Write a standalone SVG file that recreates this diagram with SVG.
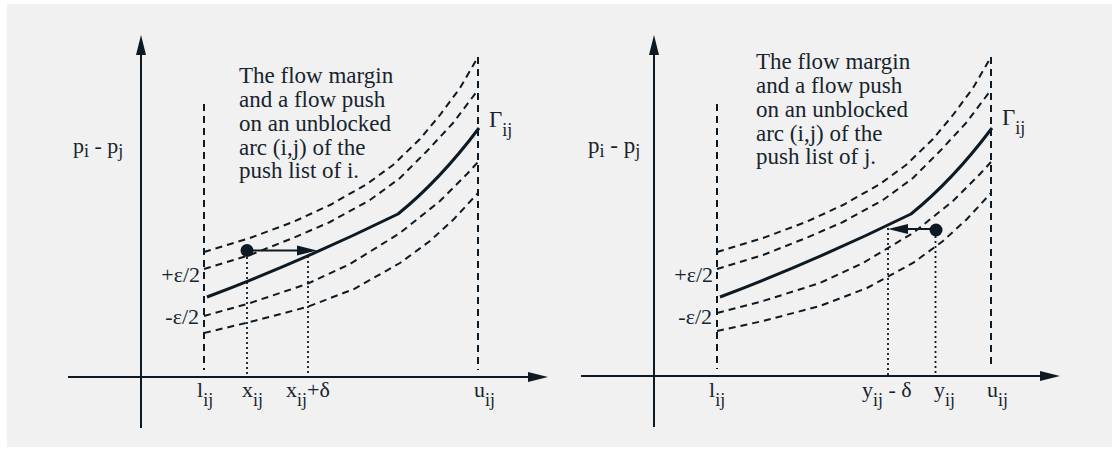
<svg xmlns="http://www.w3.org/2000/svg" width="1119" height="452" viewBox="0 0 1119 452">
<style>
.bg{fill:#f1f1f1}
.ax{stroke:#0e1a23;stroke-width:2;fill:none}
.dash{stroke:#0e1a23;stroke-width:2;fill:none;stroke-dasharray:7 5}
.dot{stroke:#0e1a23;stroke-width:1.8;fill:none;stroke-dasharray:2 3}
.solid{stroke:#0e1a23;stroke-width:3;fill:none;stroke-linejoin:miter}
.t{font-family:"Liberation Serif","Times New Roman",serif;fill:#17242e}
.para{font-size:23px}
.lab{font-size:22px}
.sub{font-size:18px}
</style>
<defs>
<marker id="ah" viewBox="0 0 20 10" refX="10" refY="5" markerWidth="20" markerHeight="10" markerUnits="userSpaceOnUse" orient="auto">
<path d="M0,0 L20,5 L0,10 z" fill="#0e1a23"/>
</marker>
<marker id="ahs" viewBox="0 0 20 11" refX="8" refY="5.5" markerWidth="20" markerHeight="11" markerUnits="userSpaceOnUse" orient="auto">
<path d="M0,0.5 L20,5.5 L0,10.5 z" fill="#0e1a23"/>
</marker>
</defs>
<rect class="bg" x="7" y="4" width="1105" height="443"/>

<g id="left-panel">
<g id="left-axes">
<line class="ax" x1="141" y1="428" x2="141" y2="45" marker-end="url(#ah)"/>
<line class="ax" x1="68" y1="377" x2="538" y2="377" marker-end="url(#ah)"/>
</g>
<g id="left-bounds">
<line class="dash" x1="204" y1="104" x2="204" y2="370"/>
<line class="dash" x1="478" y1="57" x2="478" y2="370"/>
</g>
<g id="left-curves">
<path class="dash" d="M204,252 L250,238 L293,222 L330,205 L367,184 L393,165 L420,139 L440,115 L460,88 L478,57"/>
<path class="dash" d="M204,269 L250,255 L293,238 L330,222 L370,200 L400,178 L427,151 L453,123 L478,90"/>
<path class="solid" d="M207,297 Q300,262 398,214 Q440,180 479,128"/>
<path class="dash" d="M204,316 L247,304 L307,284 L350,264 L400,233 L440,201 L467,174 L478,162"/>
<path class="dash" d="M204,333 L250,322 L307,307 L354,289 L400,263 L430,241 L454,219 L478,193"/>
</g>
<g id="left-push">
<line class="dot" x1="247" y1="252" x2="247" y2="376"/>
<line class="dot" x1="308" y1="256" x2="308" y2="376"/>
<line class="ax" x1="247" y1="250.5" x2="305" y2="250.5" marker-end="url(#ahs)"/>
<circle cx="247" cy="250.5" r="6.5" fill="#0e1a23"/>
</g>
<g id="left-labels" class="t">
<text class="lab" x="73" y="153" font-size="23">p<tspan class="sub" dy="4">i</tspan><tspan dy="-4"> - p</tspan><tspan class="sub" dy="4">j</tspan></text>
<text class="lab" x="489" y="127" style="font-size:23px">Γ<tspan class="sub" dy="9">ij</tspan></text>
<text class="lab" x="200" y="282" text-anchor="end">+ε/2</text>
<text class="lab" x="199" y="324" text-anchor="end">-ε/2</text>
<text class="lab" x="197" y="397">l<tspan class="sub" dy="9">ij</tspan></text>
<text class="lab" x="242" y="397">x<tspan class="sub" dy="9">ij</tspan></text>
<text class="lab" x="286" y="397">x<tspan class="sub" dy="9">ij</tspan><tspan dy="-9">+δ</tspan></text>
<text class="lab" x="474" y="397">u<tspan class="sub" dy="9">ij</tspan></text>
<text class="para" x="239" y="83">The flow margin</text>
<text class="para" x="239" y="107">and a flow push</text>
<text class="para" x="239" y="131">on an unblocked</text>
<text class="para" x="239" y="155">arc (i,j) of the</text>
<text class="para" x="239" y="178">push list of i.</text>
</g>
</g>

<g id="right-panel">
<g id="right-axes">
<line class="ax" x1="654" y1="427" x2="654" y2="45" marker-end="url(#ah)"/>
<line class="ax" x1="581" y1="376" x2="1050" y2="376" marker-end="url(#ah)"/>
</g>
<g id="right-bounds" transform="translate(513,0)">
<line class="dash" x1="204" y1="104" x2="204" y2="369"/>
<line class="dash" x1="478" y1="57" x2="478" y2="369"/>
</g>
<g id="right-curves" transform="translate(513,0)">
<path class="dash" d="M204,252 L250,238 L293,222 L330,205 L367,184 L393,165 L420,139 L440,115 L460,88 L478,57"/>
<path class="dash" d="M204,269 L250,255 L293,238 L330,222 L370,200 L400,178 L427,151 L453,123 L478,90"/>
<path class="solid" d="M207,297 Q300,262 398,214 Q440,180 479,128"/>
<path class="dash" d="M204,313 L247,302 L307,283 L350,263 L400,233 L440,201 L467,174 L478,162"/>
<path class="dash" d="M204,331 L250,321 L307,306 L354,288 L400,263 L430,241 L454,219 L478,193"/>
</g>
<g id="right-push">
<line class="dot" x1="888" y1="228" x2="888" y2="375"/>
<line class="dot" x1="935.5" y1="236" x2="935.5" y2="375"/>
<line class="ax" x1="936" y1="229" x2="900" y2="229" marker-end="url(#ahs)"/>
<circle cx="936" cy="230" r="6.5" fill="#0e1a23"/>
</g>
<g id="right-labels" class="t">
<text class="lab" x="588" y="153" style="font-size:23px">p<tspan class="sub" dy="4">i</tspan><tspan dy="-4"> - p</tspan><tspan class="sub" dy="4">j</tspan></text>
<text class="lab" x="1002" y="125" style="font-size:23px">Γ<tspan class="sub" dy="9">ij</tspan></text>
<text class="lab" x="713" y="282" text-anchor="end">+ε/2</text>
<text class="lab" x="712" y="324" text-anchor="end">-ε/2</text>
<text class="lab" x="709" y="397">l<tspan class="sub" dy="9">ij</tspan></text>
<text class="lab" x="862" y="397">y<tspan class="sub" dy="9">ij</tspan><tspan dy="-9"> - δ</tspan></text>
<text class="lab" x="934" y="397">y<tspan class="sub" dy="9">ij</tspan></text>
<text class="lab" x="987" y="397">u<tspan class="sub" dy="9">ij</tspan></text>
<text class="para" x="756" y="69">The flow margin</text>
<text class="para" x="756" y="93">and a flow push</text>
<text class="para" x="756" y="117">on an unblocked</text>
<text class="para" x="756" y="141">arc (i,j) of the</text>
<text class="para" x="756" y="164">push list of j.</text>
</g>
</g>
</svg>
